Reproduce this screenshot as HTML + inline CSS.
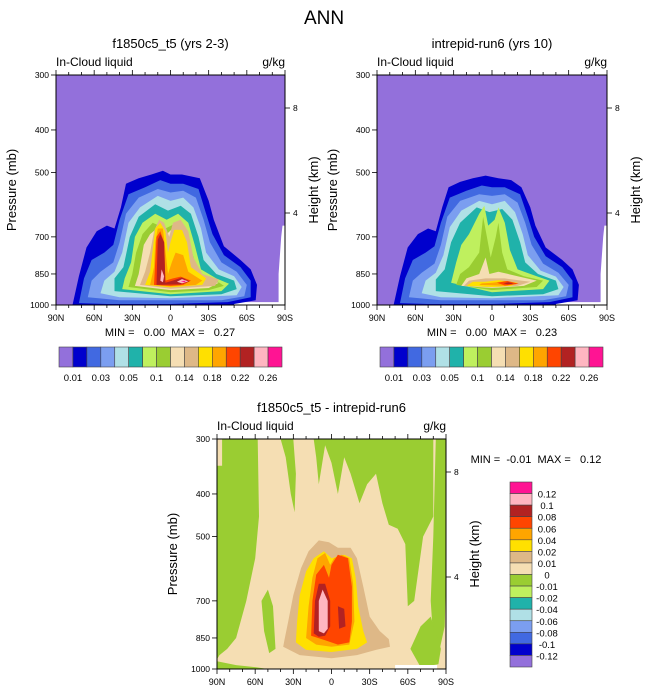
<!DOCTYPE html>
<html><head><meta charset="utf-8">
<style>
body{margin:0;background:#fff;}
svg{display:block;font-family:"Liberation Sans",Arial,sans-serif;}
</style></head>
<body>
<svg id="fig" width="648" height="694" viewBox="0 0 648 694" xmlns="http://www.w3.org/2000/svg">
<text x="324" y="24" font-size="19" text-anchor="middle">ANN</text>
</svg>
<script>
const NS='http://www.w3.org/2000/svg';
const svg=document.getElementById('fig');
const C={purple:'#9370db',mblue:'#0000cd',royal:'#4169e1',corn:'#7b9ef0',powder:'#b0e0e6',teal:'#20b2aa',lgreen:'#bff05e',olive:'#9acd32',wheat:'#f5deb3',tan:'#deb887',gold:'#ffe000',orange:'#ffa500',ored:'#ff4500',brick:'#b22222',pink:'#ffb6c1',dpink:'#ff1493'};
const levelColors=['purple','mblue','royal','corn','powder','teal','lgreen','olive','wheat','tan','gold','orange','ored','brick','pink','dpink'];
const topBarLabels=['0.01','0.03','0.05','0.1','0.14','0.18','0.22','0.26'];
const diffBarLabels=['0.12','0.1','0.08','0.06','0.04','0.02','0.01','0','-0.01','-0.02','-0.04','-0.06','-0.08','-0.1','-0.12'];
const diffBarColors=['dpink','pink','brick','ored','orange','gold','tan','wheat','olive','lgreen','teal','powder','corn','royal','mblue','purple'];
const pTicks=[300,400,500,700,850,1000];
const latTicks=[90,60,30,0,-30,-60,-90];
const latTickLabels=['90N','60N','30N','0','30S','60S','90S'];

const panel1=[
['mblue',[[77,1000],[72,860],[66,740],[58,680],[50,660],[44,670],[39,600],[35,530],[25,515],[15,505],[6,495],[0,505],[-9,505],[-23,515],[-30,580],[-34,640],[-42,735],[-55,790],[-63,830],[-68,900],[-67,975],[-50,995],[-50,1000]]],
['royal',[[72,990],[68,870],[62,790],[52,760],[45,730],[40,640],[33,560],[20,540],[8,520],[0,530],[-10,530],[-22,545],[-28,620],[-33,690],[-42,770],[-55,820],[-63,880],[-63,960],[-45,985],[0,995],[50,995]]],
['corn',[[65,960],[62,880],[55,840],[45,800],[40,720],[35,620],[25,570],[10,545],[0,555],[-10,550],[-20,570],[-26,640],[-31,720],[-40,800],[-52,840],[-60,900],[-58,955],[-40,975],[40,975]]],
['powder',[[55,940],[52,880],[44,840],[38,760],[33,650],[24,600],[10,565],[0,580],[-10,570],[-18,600],[-24,670],[-28,760],[-38,830],[-50,860],[-56,910],[-52,950],[0,965],[40,960]]],
['teal',[[44,930],[44,870],[37,820],[32,700],[25,630],[12,590],[2,610],[-8,595],[-16,620],[-22,700],[-26,790],[-36,850],[-50,880],[-52,920],[-40,945],[0,955]]],
['lgreen',[[38,920],[36,870],[31,800],[28,700],[22,650],[12,620],[3,640],[-6,620],[-14,650],[-19,730],[-24,830],[-36,870],[-46,895],[-40,930],[0,945]]],
['olive',[[33,910],[30,850],[27,760],[22,690],[14,650],[4,670],[-5,650],[-12,680],[-17,760],[-22,850],[-36,880],[-42,905],[-30,925],[0,935]]],
['wheat',[[28,905],[25,850],[21,730],[16,690],[8,660],[3,690],[-4,660],[-10,700],[-14,800],[-20,870],[-38,890],[-30,915],[0,925]]],
['tan',[[24,900],[20,840],[16,760],[13,680],[9,640],[5,650],[1,700],[-2,650],[-8,640],[-14,680],[-18,780],[-25,850],[-38,875],[-35,905],[0,918]]],
['gold',[[20,900],[16,840],[14,750],[12,670],[8,650],[4,680],[2,760],[0,720],[-3,675],[-9,675],[-13,720],[-16,820],[-28,870],[-25,900],[0,912]]],
['orange',[[16,900],[13,820],[12,720],[10,670],[6,670],[4,750],[2,850],[-1,800],[-4,760],[-10,770],[-14,840],[-25,880],[-20,900],[0,908]]],
['ored',[[13,900],[12,800],[11,700],[8,680],[5,720],[4,880],[-2,870],[-8,862],[-16,880],[-10,900],[0,905]]],
['brick',[[11,900],[10.5,800],[10,710],[8,690],[5,720],[4,890],[-3,878],[-9,866],[-15,884],[-8,898]]],
['pink',[[8,880],[7,830],[5,860],[6,888]]],
['pink',[[-5,885],[-9,873],[-14,884],[-9,893]]],
['dpink',[[-8,885],[-11,880],[-12,887]]]
];
const panel2=[
['mblue',[[77,1000],[72,860],[66,740],[58,690],[50,670],[44,680],[39,600],[34,540],[25,525],[15,515],[5,508],[-5,515],[-15,520],[-23,540],[-30,600],[-34,660],[-42,740],[-55,790],[-63,830],[-68,900],[-67,975],[-50,995],[-50,1000]]],
['royal',[[72,990],[68,870],[62,790],[52,760],[45,735],[40,650],[33,570],[20,550],[8,535],[0,540],[-10,540],[-22,560],[-28,630],[-33,700],[-42,775],[-55,820],[-63,880],[-63,960],[-45,985],[0,995],[50,995]]],
['corn',[[65,960],[62,880],[55,845],[45,805],[40,730],[35,630],[25,580],[10,560],[0,565],[-10,560],[-20,585],[-26,650],[-31,730],[-40,805],[-52,845],[-60,900],[-58,955],[-40,975],[40,975]]],
['powder',[[55,940],[52,880],[44,845],[38,770],[33,665],[24,610],[10,580],[0,590],[-10,580],[-18,615],[-24,690],[-28,770],[-38,835],[-50,862],[-56,910],[-52,950],[0,965],[40,960]]],
['teal',[[44,930],[44,875],[37,830],[32,720],[25,650],[12,600],[2,615],[-8,605],[-16,640],[-22,720],[-26,800],[-36,850],[-50,880],[-52,920],[-40,945],[0,955]]],
['lgreen',[[32,890],[28,800],[24,730],[18,690],[10,620],[6,595],[3,660],[-2,640],[-5,600],[-10,650],[-14,750],[-20,830],[-35,860],[-45,880],[-40,920],[0,935]]],
['olive',[[28,900],[25,850],[18,820],[10,760],[7,630],[4,700],[1,780],[-3,700],[-5,650],[-8,760],[-12,830],[-25,860],[-40,880],[-35,910],[0,925]]],
['wheat',[[24,905],[20,870],[10,850],[5,780],[2,850],[-5,840],[-20,860],[-35,880],[-25,905],[0,915]]],
['tan',[[22,905],[18,880],[5,870],[-10,870],[-30,885],[-20,905],[0,912]]],
['gold',[[20,905],[15,885],[5,885],[-5,878],[-20,890],[-15,905],[0,910]]],
['orange',[[10,900],[8,893],[0,890],[-10,882],[-20,895],[-12,905]]],
['ored',[[-4,890],[-12,882],[-21,895],[-10,903]]],
['brick',[[-9,892],[-13,888],[-17,895],[-12,897]]]
];
const panel3=[
['olive',[[86,300],[58,300],[57,450],[60,560],[67,700],[75,850],[82,900],[88,930],[90,950],[90,345],[86,345]]],
['olive',[[90,960],[75,980],[60,990],[50,1000],[90,1000]]],
['olive',[[55,700],[50,660],[46,720],[44,900],[49,920],[53,820]]],
['olive',[[40,300],[30,300],[28,360],[29,440],[32,400],[36,330]]],
['olive',[[14,300],[-80,300],[-80,450],[-72,500],[-65,700],[-60,720],[-58,520],[-52,480],[-45,470],[-40,420],[-35,360],[-28,380],[-22,420],[-15,360],[-10,330],[-5,400],[0,340],[5,310],[10,380],[12,330]]],
['olive',[[-82,300],[-90,300],[-90,620],[-89,800],[-84,930],[-80,860],[-78,700],[-80,500]]],
['olive',[[-62,900],[-70,800],[-78,760],[-86,900],[-84,975],[-70,990]]],
['tan',[[37,860],[34,780],[30,680],[24,590],[18,540],[10,510],[2,515],[-5,530],[-15,530],[-20,560],[-25,650],[-30,760],[-38,820],[-45,855],[-46,890],[-35,905],[-20,930],[0,945],[25,930],[38,890]]],
['gold',[[28,870],[27,780],[25,680],[20,600],[14,560],[6,540],[0,560],[-5,555],[-10,550],[-16,560],[-19,620],[-21,720],[-25,820],[-28,870],[-20,900],[0,915],[20,905]]],
['orange',[[20,850],[18,720],[15,620],[11,560],[5,545],[1,580],[-2,560],[-8,550],[-14,560],[-17,640],[-18,780],[-14,880],[0,890],[12,880]]],
['ored',[[16,840],[15,700],[12,610],[6,580],[2,620],[0,580],[-5,550],[-13,560],[-16,650],[-16,780],[-14,870],[-5,880],[5,860]]],
['brick',[[14,830],[13,700],[10,640],[5,640],[1,700],[1,800],[5,840],[10,845]]],
['brick',[[-5,720],[-10,730],[-11,800],[-6,810]]],
['pink',[[10,820],[10,700],[7,660],[3,700],[3,810],[6,830]]]
];

function el(tag,attrs,parent,name,inter){
  const e=document.createElementNS(NS,tag);
  for(const k in attrs)e.setAttribute(k,attrs[k]);
  
  
  (parent||svg).appendChild(e);return e;
}
function txt(x,y,s,size,anchor,name,extra){
  const t=el('text',Object.assign({x:x,y:y,'font-size':size,'text-anchor':anchor||'middle'},extra||{}),svg,name,false);
  t.textContent=s;return t;
}
function makePanel(o){
  const {x0,x1,y0,y1}=o;
  const xs=lat=>x0+(90-lat)/180*(x1-x0);
  const ys=p=>y1-(y1-y0)*Math.log(1000/p)/Math.log(1000/300);
  const g=el('g',{},svg,o.name,false);
  el('rect',{x:x0,y:y0,width:x1-x0,height:y1-y0,fill:C[o.bg]},g,'plot-background',false);
  if(o.white){o.white.forEach(w=>{
    const pts=w.map(d=>xs(d[0]).toFixed(1)+','+ys(d[1]).toFixed(1)).join(' ');
    el('polygon',{points:pts,fill:'#fff'},g,'missing-data-region',false);
  });}
  o.contours.forEach(c=>{
    const pts=c[1].map(d=>xs(d[0]).toFixed(1)+','+ys(d[1]).toFixed(1)).join(' ');
    el('polygon',{points:pts,fill:C[c[0]]},g,'contour-'+c[0],false);
  });
  el('rect',{x:x0,y:y0,width:x1-x0,height:y1-y0,fill:'none',stroke:'#000','stroke-width':1},g,'plot-frame',false);
  for(let lat=90;lat>=-90;lat-=10){
    const X=xs(lat),maj=lat%30===0;
    el('line',{x1:X,x2:X,y1:y1,y2:y1+(maj?5:3),stroke:'#000','stroke-width':0.8},g,'x-tick',false);
    el('line',{x1:X,x2:X,y1:y0,y2:y0-(maj?5:3),stroke:'#000','stroke-width':0.8},g,'x-tick-top',false);
  }
  latTicks.forEach((lat,i)=>txt(xs(lat),y1+16,latTickLabels[i],9,'middle','x-tick-label'));
  pTicks.forEach(p=>{
    const Y=ys(p);
    el('line',{x1:x0-5,x2:x0,y1:Y,y2:Y,stroke:'#000','stroke-width':0.8},g,'y-tick',false);
    txt(x0-7,Y+3,String(p),8.5,'end','y-tick-label');
  });
  o.hticks.forEach(h=>{
    el('line',{x1:x1,x2:x1+5,y1:h[1],y2:h[1],stroke:'#000','stroke-width':0.8},g,'height-tick',false);
    txt(x1+8,h[1]+3,h[0],8.5,'start','height-tick-label');
  });
  txt((x0+x1)/2,y0-27,o.title,13,'middle','panel-title');
  txt(x0,y0-9,'In-Cloud liquid',12,'start','variable-label');
  txt(x1,y0-9,'g/kg',12,'end','units-label');
  const t1=txt(x0-40,(y0+y1)/2,'Pressure (mb)',13,'middle','y-axis-title');
  t1.setAttribute('transform','rotate(-90 '+(x0-40)+' '+((y0+y1)/2)+')');
  const hx=x1+o.hx;
  const t2=txt(hx,(y0+y1)/2,'Height (km)',13,'middle','height-axis-title');
  t2.setAttribute('transform','rotate(-90 '+hx+' '+((y0+y1)/2)+')');
}
makePanel({name:'panel-control',x0:56,x1:285,y0:75,y1:305,bg:'purple',contours:panel1,title:'f1850c5_t5 (yrs 2-3)',hticks:[['8',108],['4',213]],hx:33,
  white:[[[-50,1000],[-50,985],[-85,985],[-85,850],[-87,700],[-88,660],[-90,660],[-90,1000]]]});
makePanel({name:'panel-test',x0:377,x1:607,y0:75,y1:305,bg:'purple',contours:panel2,title:'intrepid-run6 (yrs 10)',hticks:[['8',108],['4',213]],hx:33,
  white:[[[-50,1000],[-50,985],[-85,985],[-85,850],[-87,700],[-88,660],[-90,660],[-90,1000]]]});
makePanel({name:'panel-difference',x0:217,x1:446,y0:439,y1:669,bg:'wheat',contours:panel3,title:'f1850c5_t5 - intrepid-run6',hticks:[['8',472],['4',577]],hx:33,
  white:[]});
(function(){const x0=217,x1=446;const xs=lat=>x0+(90-lat)/180*(x1-x0);
 el('rect',{x:xs(-50),y:665,width:xs(-83)-xs(-50),height:3.5,fill:'#fff'},svg,'missing-data-strip',false);})();

const pre={'style':'white-space:pre'};
txt(170,336,'MIN =   0.00  MAX =   0.27',11,'middle','min-max-control',pre);
txt(492,336,'MIN =   0.00  MAX =   0.23',11,'middle','min-max-test',pre);
txt(536,463,'MIN =  -0.01  MAX =   0.12',11,'middle','min-max-difference',pre);

function hbar(x0,x1,y0,y1,name){
  const g=el('g',{},svg,name,false);
  const w=(x1-x0)/levelColors.length;
  levelColors.forEach((c,i)=>el('rect',{x:x0+i*w,y:y0,width:w,height:y1-y0,fill:C[c],stroke:'#444','stroke-width':0.6},g,'colorbar-box',false));
  topBarLabels.forEach((l,i)=>txt(x0+(2*i+1)*w,y1+14,l,9.5,'middle','colorbar-label'));
}
hbar(59,282,347,367,'colorbar-control');
hbar(380,603,347,367,'colorbar-test');
(function(){
  const g=el('g',{},svg,'colorbar-difference',false);
  const x0=510,x1=532,y0=482,y1=667,h=(y1-y0)/diffBarColors.length;
  diffBarColors.forEach((c,i)=>el('rect',{x:x0,y:y0+i*h,width:x1-x0,height:h,fill:C[c],stroke:'#444','stroke-width':0.6},g,'colorbar-box',false));
  diffBarLabels.forEach((l,i)=>txt(547,y0+(i+1)*h+4,l,9.5,'middle','colorbar-label'));
})();
</script>
</body></html>
